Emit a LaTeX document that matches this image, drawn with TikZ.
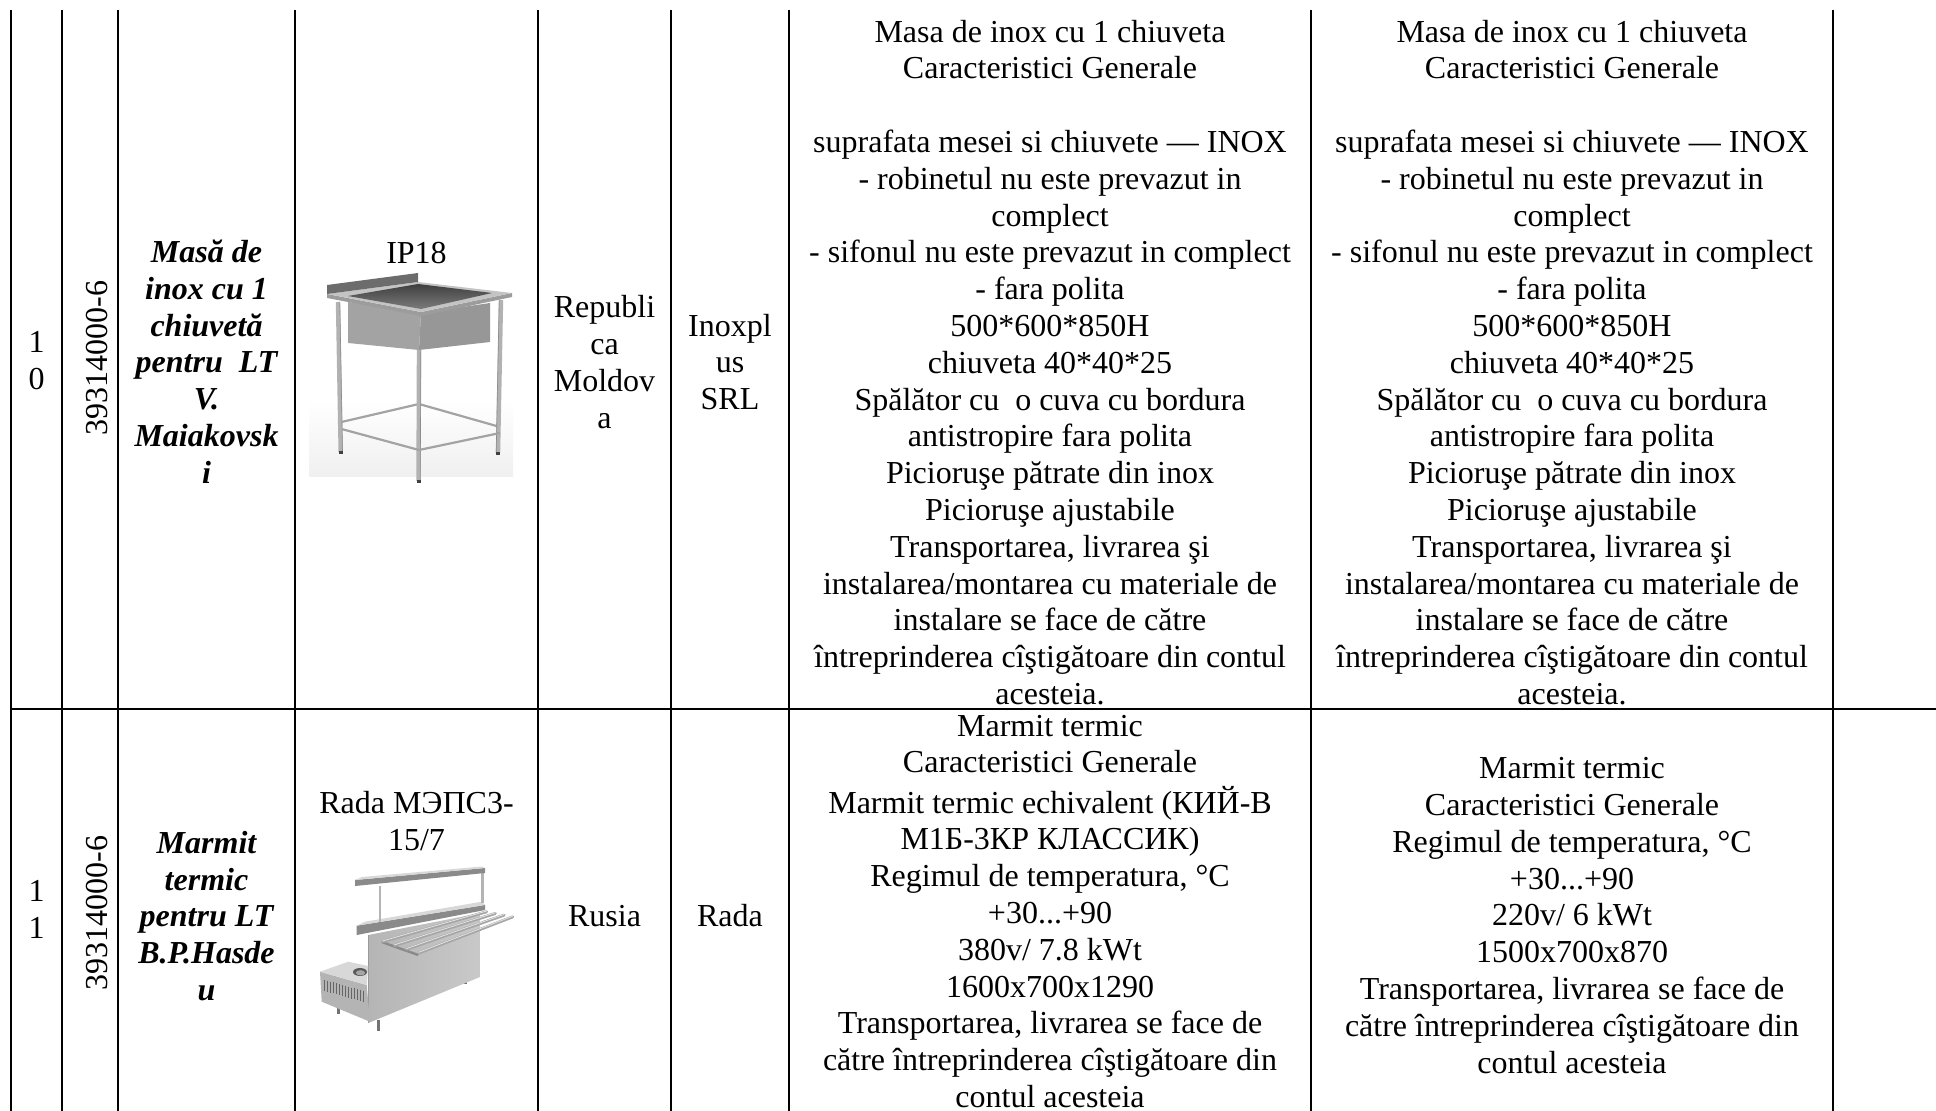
\documentclass[tikz,border=0pt]{standalone}
\usepackage{fontspec}
\setmainfont{Liberation Serif}
\newcommand{\nlx}{\\\strut}
\definecolor{legc}{HTML}{B2B2B2}
\definecolor{legd}{HTML}{8C8C8C}
\definecolor{basl}{HTML}{A3A3A3}
\definecolor{basr}{HTML}{979797}
\definecolor{topc}{HTML}{C4C4C4}
\definecolor{rimc}{HTML}{9C9C9C}
\definecolor{holec}{HTML}{5A5A5A}
\definecolor{splc}{HTML}{6C6C6C}
\definecolor{mbody}{HTML}{C9C9C9}
\definecolor{mlite}{HTML}{D8D8D8}
\definecolor{mmid}{HTML}{B4B4B4}
\definecolor{mdark}{HTML}{8A8A8A}
\definecolor{mtube}{HTML}{A6A6A6}
\begin{document}
\begin{tikzpicture}[x=0.5pt,y=-0.5pt,
  cell/.style={align=center,inner sep=0pt,font=\fontsize{16}{18.4}\selectfont},
  bcell/.style={align=center,inner sep=0pt,font=\fontsize{16}{18.4}\selectfont\bfseries\itshape},
  vcell/.style={inner sep=0pt,rotate=90,font=\fontsize{16}{18.4}\selectfont},
  rule/.style={line width=0.9pt,black},
  leg/.style={line width=2.2pt,legc},
  rail/.style={line width=1.1pt,legd!80},
  tube/.style={line width=1.5pt,mtube,line cap=round},
  post/.style={line width=1.4pt,mmid}]
\useasboundingbox (0,0) rectangle (1936,1111);

% ---------------- grid ----------------
\foreach \gx in {11,62,118,295,538,671,789,1311,1833}
  \draw[rule] (\gx,10) -- (\gx,1111);
\draw[rule] (11,709) -- (1936,709);

% ---------------- row 10 ----------------
\node[cell] (r10c1) at (36.5,364) {\strut 1\nlx 0};
\node[vcell] (r10c2) at (97,358) {39314000-6};
\node[bcell] (r10c3) at (206.5,365.5) {\strut Masă de\nlx inox cu 1\nlx chiuvetă\nlx pentru\ \ LT\nlx V.\nlx Maiakovsk\nlx i};
\node[cell] (r10c4) at (416.5,256) {\strut IP18};
\node[cell] (r10c5) at (604.5,365.5) {\strut Republi\nlx ca\nlx Moldov\nlx a};
\node[cell] (r10c6) at (730,365.5) {\strut Inoxpl\nlx us\nlx SRL};
\node[cell] (r10c7) at (1050,366) {\strut Masa de inox cu 1 chiuveta\nlx Caracteristici Generale\nlx\nlx suprafata mesei si chiuvete — INOX\nlx - robinetul nu este prevazut in\nlx complect\nlx - sifonul nu este prevazut in complect\nlx - fara polita\nlx 500*600*850H\nlx chiuveta 40*40*25\nlx Spălător cu\ \ o cuva cu bordura\nlx antistropire fara polita\nlx Picioruşe pătrate din inox\nlx Picioruşe ajustabile\nlx Transportarea, livrarea şi\nlx instalarea/montarea cu materiale de\nlx instalare se face de către\nlx întreprinderea cîştigătoare din contul\nlx acesteia.};
\node[cell] (r10c8) at (1572,366) {\strut Masa de inox cu 1 chiuveta\nlx Caracteristici Generale\nlx\nlx suprafata mesei si chiuvete — INOX\nlx - robinetul nu este prevazut in\nlx complect\nlx - sifonul nu este prevazut in complect\nlx - fara polita\nlx 500*600*850H\nlx chiuveta 40*40*25\nlx Spălător cu\ \ o cuva cu bordura\nlx antistropire fara polita\nlx Picioruşe pătrate din inox\nlx Picioruşe ajustabile\nlx Transportarea, livrarea şi\nlx instalarea/montarea cu materiale de\nlx instalare se face de către\nlx întreprinderea cîştigătoare din contul\nlx acesteia.};

% ---------------- sink picture ----------------
\shade[top color=white,bottom color=black!6] (309,400) rectangle (513,477);
% back rails
\draw[rail] (341.5,422) -- (419,404) -- (500,427);
% legs
\draw[leg] (338,302) -- (340.7,452);
\draw[leg] (501,300) -- (498,453);
\draw[leg] (419,350) -- (418.5,481);
\draw[legd,line width=0.3pt] (339.8,302) -- (342.5,452) (499.2,300) -- (496.2,453) (420.8,350) -- (420.3,481);
% front rails
\draw[rail] (341.5,429) -- (419,450) -- (500,433);
% feet
\fill[black!75] (338.5,451) rectangle (342.5,454.5);
\fill[black!75] (496,452) rectangle (500,455.5);
\fill[black!75] (416.5,480) rectangle (420.5,483.5);
% basin
\fill[basl] (348,302) -- (421,313) -- (419,350) -- (348,343) -- cycle;
\fill[basr] (421,313) -- (490,303) -- (490,342) -- (419,350) -- cycle;
% top surface and rim
\fill[rimc] (327,294) -- (421,312) -- (512,293) -- (512,297) -- (421,316) -- (327,298) -- cycle;
\fill[topc] (327,294) -- (418,282) -- (512,293) -- (421,312) -- cycle;
\shade[top color=holec!70!black,bottom color=holec!80!white] (348,296) -- (418,284) -- (492,293) -- (421,309) -- cycle;
% backsplash
\fill[splc] (327,285) -- (418,273) -- (418,282) -- (327,294) -- cycle;

% ---------------- row 11 ----------------
\node[cell] (r11c1) at (36.5,913) {\strut 1\nlx 1};
\node[vcell] (r11c2) at (97,913) {39314000-6};
\node[bcell] (r11c3) at (206.5,919.5) {\strut Marmit\nlx termic\nlx pentru LT\nlx B.P.Hasde\nlx u};
\node[cell] (r11c4) at (416.5,825) {\strut Rada МЭПС3-\nlx 15/7};
\node[cell] (r11c5) at (604.5,919.5) {\strut Rusia};
\node[cell] (r11c6) at (730,919.5) {\strut Rada};
\node[cell] (r11c7) at (1050,909) {\strut Marmit termic\nlx Caracteristici Generale\nlx Marmit termic echivalent (КИЙ-В\nlx М1Б-3КР КЛАССИК)\nlx Regimul de temperatura, °C\nlx +30...+90\nlx 380v/ 7.8 kWt\nlx 1600x700x1290\nlx Transportarea, livrarea se face de\nlx către întreprinderea cîştigătoare din\\ contul acesteia};
\node[cell] (r11c8) at (1572,918.5) {\strut Marmit termic\nlx Caracteristici Generale\nlx Regimul de temperatura, °C\nlx +30...+90\nlx 220v/ 6 kWt\nlx 1500x700x870\nlx Transportarea, livrarea se face de\nlx către întreprinderea cîştigătoare din\nlx contul acesteia};

% ---------------- marmit picture ----------------
% legs
\draw[line width=1.5pt,black!55] (338.3,1004) -- (338.3,1013.5);
\draw[line width=1.5pt,black!55] (378.3,1020) -- (378.3,1031);
\draw[line width=1.5pt,black!55] (465,975) -- (465,983.5);
% body
\shade[left color=mbody!90!black,right color=mbody] (368.3,935) -- (480.7,913) -- (480.7,976.7) -- (368.3,1023) -- cycle;
\draw[black!40,line width=0.3pt] (368.3,935) -- (368.3,1023);
% low box
\fill[mmid] (320,971.7) -- (366.7,985) -- (370,1021.7) -- (321.7,1001.7) -- cycle;
\fill[mlite] (320,971.7) -- (348.3,961.7) -- (368.3,966) -- (366.7,985) -- cycle;
\fill[black!65] (360,972) ellipse [x radius=7,y radius=4];
\fill[black!35] (360.5,972.8) ellipse [x radius=4.6,y radius=2.6];
\foreach \i in {0,...,13}{
  \pgfmathsetmacro{\vx}{324+3*\i}
  \pgfmathsetmacro{\vy}{971.7+(\vx-320)*0.285+7}
  \draw[black!60,line width=0.4pt] (\vx,\vy) -- (\vx,\vy+11);
}
% counter
\fill[mdark] (356.7,925.7) -- (485,905) -- (485,910) -- (356.7,935) -- cycle;
\fill[mlite] (356.7,925.7) -- (365,921.7) -- (481.7,901.7) -- (485,905) -- cycle;
% posts
\draw[post] (380,886) -- (380,922);
\draw[post] (482.7,873) -- (482.7,903);
% top shelf
\fill[mdark] (355,880) -- (485,868) -- (485,873) -- (355,886) -- cycle;
\fill[mlite] (355,880) -- (362,877) -- (482,866.5) -- (485,868) -- cycle;
% tubes
\draw[line width=1.2pt,mdark] (381.7,942) -- (418.3,955);
\foreach \i in {0,...,3}{
  \draw[tube] (382.5+12*\i,941.7+3.8*\i) -- (486.7+8.7*\i,911.7+1.7*\i);
  \draw[white!70!mtube,line width=0.4pt] (382.5+12*\i,941+3.8*\i) -- (486.7+8.7*\i,911+1.7*\i);
}
\end{tikzpicture}
\end{document}
